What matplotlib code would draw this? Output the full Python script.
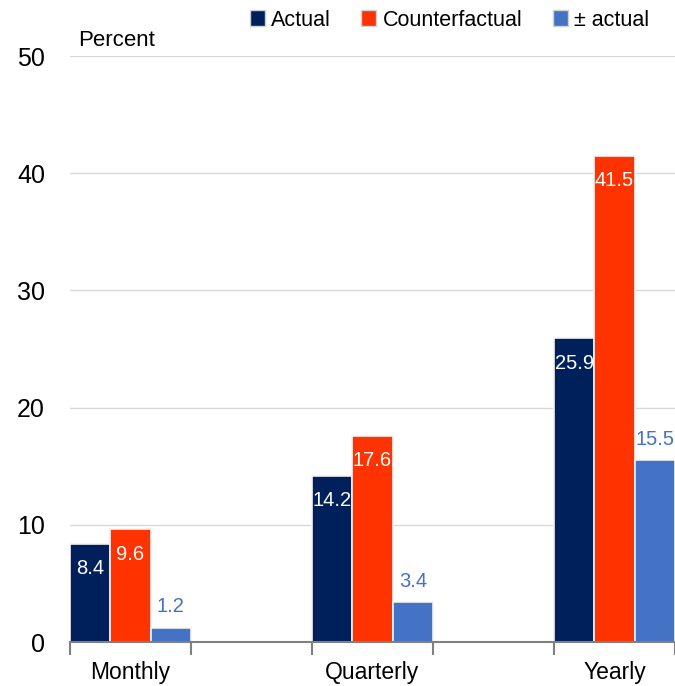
import matplotlib
matplotlib.use("Agg")
import matplotlib.pyplot as plt
from matplotlib.patches import Patch

categories = ["Monthly", "Quarterly", "Yearly"]
series_names = ["Actual", "Counterfactual", "± actual"]
actual = [8.4, 14.2, 25.9]
counterfactual = [9.6, 17.6, 41.5]
diff = [1.2, 3.4, 15.5]
yticks = [0, 10, 20, 30, 40, 50]
colors = ["#00205B", "#FF3300", "#4472C4"]

plt.rcParams['font.family'] = ['Liberation Sans', 'DejaVu Sans']

fig = plt.figure(figsize=(6.75, 6.86), dpi=100)
ax = fig.add_axes([70/675, 1-642/686, 605/675, 586/686])

bw = 0.5/3
series = [actual, counterfactual, diff]
for s, (vals, col) in enumerate(zip(series, colors)):
    xs = [i + s*bw + bw/2 for i in range(len(categories))]
    ax.bar(xs, vals, width=bw, color=col, edgecolor="#f2f2f2", linewidth=1.2, zorder=3)
    for x, v in zip(xs, vals):
        if s < 2:
            ax.annotate(f"{v}", (x, v), xytext=(0, -25), textcoords="offset pixels",
                        ha="center", va="center", color="white", fontsize=14.5, zorder=4)
        else:
            ax.annotate(f"{v}", (x, v), xytext=(0, 21), textcoords="offset pixels",
                        ha="center", va="center", color=col, fontsize=14.5, zorder=4)

ax.set_xlim(0, 2.5)
ax.set_ylim(0, 50)
ax.set_yticks(yticks)
ax.set_yticklabels([str(t) for t in yticks], fontsize=18)
ax.tick_params(axis="y", length=0, pad=18)
ax.grid(axis="y", color="#d9d9d9", linewidth=1, zorder=0)
ax.set_xticks([0, 0.5, 1, 1.5, 2, 2.5])
ax.set_xticklabels([])
ax.tick_params(axis="x", length=9, width=1.5, color="#808080", direction="out")
for i, c in enumerate(categories):
    ax.annotate(c, (i + 0.25, 0), xycoords=("data", "figure pixels"), xytext=(0, 2),
                textcoords="offset pixels", ha="center", va="bottom", fontsize=16.5)
for sp in ["left", "right", "top"]:
    ax.spines[sp].set_visible(False)
ax.spines["bottom"].set_color("#808080")
ax.spines["bottom"].set_linewidth(1.5)
ax.spines["bottom"].set_zorder(5)

fig.text(78/675, 1-40/686, "Percent", fontsize=16, ha="left", va="center")

handles = [Patch(facecolor=c, edgecolor="#d0d0d0", linewidth=1) for c in colors]
fig.legend(handles, series_names, loc="center right", bbox_to_anchor=(660/675, 1-20/686),
           ncol=3, frameon=False, fontsize=15.5, handlelength=0.7, handleheight=0.7,
           handletextpad=0.3, columnspacing=1.4, borderpad=0)

fig.savefig("out.png", dpi=100)
